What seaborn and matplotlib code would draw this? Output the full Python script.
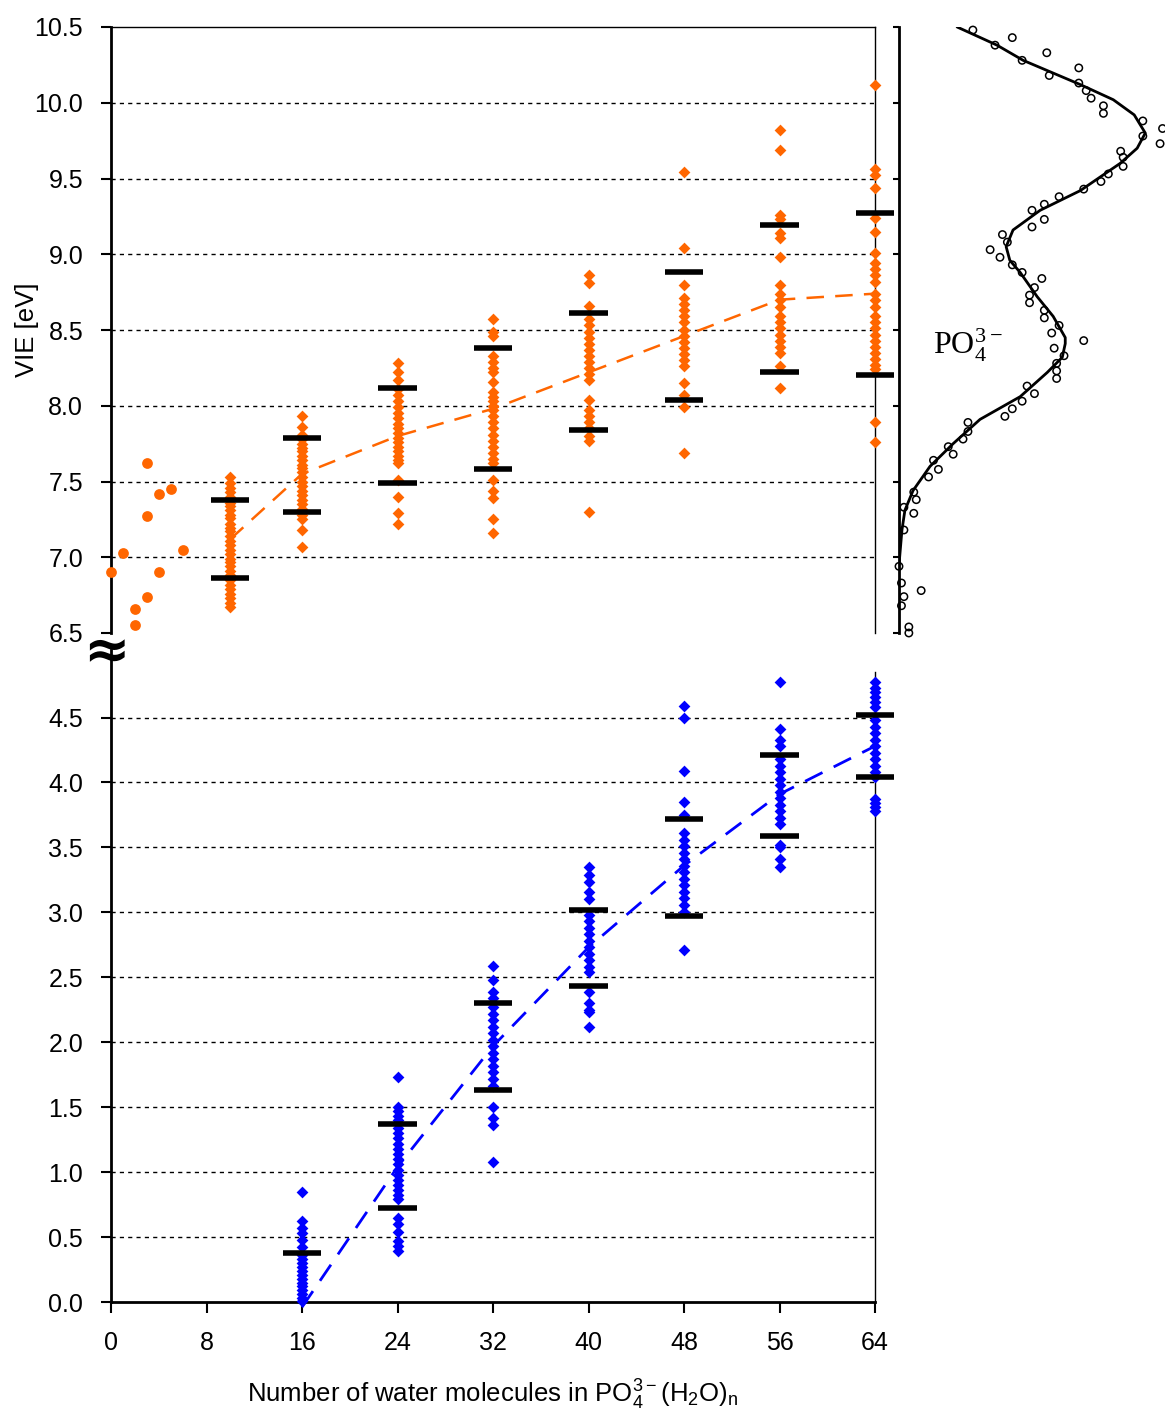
import numpy as np
import pandas as pd
import matplotlib
matplotlib.use("Agg")
import matplotlib.pyplot as plt
import seaborn as sns

# ---------------- data ----------------
# small clusters, n = 0..6 (orange dots)
small_n = [0, 1, 2, 2, 3, 3, 3, 4, 4, 5, 6]
small_vie = [6.90, 7.03, 6.66, 6.55, 7.62, 7.27, 6.74, 7.42, 6.90, 7.45, 7.05]

# VIE of PO4^3- states (upper panel), one list per cluster size
vie_n10 = [7.53, 7.49, 7.46, 7.43, 7.40, 7.36, 7.34, 7.31, 7.28, 7.26, 7.22, 7.19, 7.17, 7.14, 7.11,
           7.08, 7.05, 7.02, 6.99, 6.97, 6.94, 6.91, 6.88, 6.85, 6.82, 6.79, 6.76, 6.73, 6.70, 6.67]
vie_n16 = [7.93, 7.86, 7.81, 7.78, 7.75, 7.72, 7.70, 7.67, 7.64, 7.61, 7.59, 7.56, 7.53, 7.50, 7.47,
           7.44, 7.41, 7.38, 7.35, 7.32, 7.28, 7.25, 7.18, 7.07]
vie_n24 = [8.28, 8.22, 8.17, 8.11, 8.07, 8.03, 7.99, 7.95, 7.92, 7.88, 7.85, 7.82, 7.79, 7.76, 7.73,
           7.70, 7.67, 7.64, 7.62, 7.51, 7.40, 7.29, 7.22]
vie_n32 = [8.57, 8.49, 8.46, 8.33, 8.29, 8.25, 8.22, 8.16, 8.09, 8.06, 8.03, 8.00, 7.97, 7.93, 7.89,
           7.85, 7.81, 7.77, 7.73, 7.69, 7.65, 7.62, 7.51, 7.44, 7.39, 7.25, 7.16]
vie_n40 = [8.86, 8.81, 8.66, 8.57, 8.53, 8.49, 8.45, 8.41, 8.37, 8.33, 8.29, 8.25, 8.21, 8.17, 8.04,
           7.97, 7.93, 7.89, 7.85, 7.80, 7.77, 7.30]
vie_n48 = [9.54, 9.04, 8.80, 8.71, 8.67, 8.63, 8.59, 8.55, 8.50, 8.46, 8.42, 8.38, 8.34, 8.30, 8.26,
           8.15, 8.07, 7.99, 7.69]
vie_n56 = [9.82, 9.69, 9.26, 9.23, 9.14, 9.11, 8.98, 8.80, 8.74, 8.70, 8.65, 8.59, 8.55, 8.51, 8.47,
           8.43, 8.39, 8.35, 8.26, 8.12]
vie_n64 = [10.12, 9.56, 9.52, 9.44, 9.24, 9.15, 9.01, 8.94, 8.90, 8.86, 8.82, 8.74, 8.70, 8.65, 8.59,
           8.55, 8.51, 8.47, 8.43, 8.39, 8.35, 8.31, 8.27, 8.24, 7.89, 7.76]

orange_n = [10, 16, 24, 32, 40, 48, 56, 64]
orange_mean = [7.12, 7.55, 7.80, 7.98, 8.22, 8.46, 8.70, 8.74]
orange_hi = [7.38, 7.79, 8.12, 8.38, 8.61, 8.88, 9.19, 9.27]
orange_lo = [6.86, 7.30, 7.49, 7.58, 7.84, 8.04, 8.22, 8.20]

# lower panel (blue)
blue_n16 = [0.85, 0.62, 0.57, 0.53, 0.48, 0.42, 0.36, 0.33, 0.30, 0.27, 0.24, 0.21, 0.18, 0.15, 0.12,
            0.09, 0.06, 0.03, 0.01]
blue_n24 = [1.73, 1.50, 1.47, 1.43, 1.40, 1.34, 1.30, 1.26, 1.22, 1.18, 1.14, 1.10, 1.06, 1.02, 0.98,
            0.94, 0.90, 0.86, 0.82, 0.79, 0.65, 0.60, 0.54, 0.47, 0.43, 0.39]
blue_n32 = [2.59, 2.48, 2.39, 2.34, 2.27, 2.22, 2.17, 2.12, 2.07, 2.02, 1.97, 1.92, 1.87, 1.82, 1.77,
            1.72, 1.66, 1.50, 1.42, 1.36, 1.08]
blue_n40 = [3.35, 3.29, 3.23, 3.16, 3.10, 2.98, 2.93, 2.88, 2.83, 2.78, 2.73, 2.68, 2.63, 2.58, 2.54,
            2.39, 2.30, 2.25, 2.23, 2.12]
blue_n48 = [4.59, 4.50, 4.09, 3.85, 3.75, 3.61, 3.56, 3.51, 3.46, 3.41, 3.36, 3.31, 3.26, 3.21, 3.16,
            3.11, 3.06, 3.00, 2.71]
blue_n56 = [4.77, 4.41, 4.33, 4.28, 4.18, 4.13, 4.08, 4.03, 3.98, 3.93, 3.88, 3.83, 3.78, 3.73, 3.68,
            3.52, 3.50, 3.41, 3.35]
blue_n64 = [4.77, 4.73, 4.70, 4.66, 4.62, 4.58, 4.48, 4.43, 4.38, 4.33, 4.28, 4.23, 4.18, 4.13, 4.08,
            4.04, 3.87, 3.84, 3.81, 3.78]

blue_n = [16, 24, 32, 40, 48, 56, 64]
blue_mean = [-0.04, 1.04, 1.97, 2.73, 3.36, 3.91, 4.28]
blue_hi = [0.38, 1.37, 2.30, 3.02, 3.72, 4.21, 4.52]
blue_lo = [-0.34, 0.72, 1.63, 2.43, 2.97, 3.59, 4.04]  # first one lies below the axis

# photoelectron spectrum (right panel): fitted curve and measured points
spec_vie = [10.50, 10.38, 10.28, 10.12, 10.02, 9.92, 9.80, 9.70, 9.60, 9.42, 9.29, 9.16, 9.05, 8.96,
            8.88, 8.72, 8.59, 8.45, 8.41, 8.32, 8.22, 8.06, 7.91, 7.75, 7.60, 7.44, 7.31, 7.18, 6.95]
spec_int = [0.236, 0.398, 0.504, 0.736, 0.870, 0.955, 1.0, 0.967, 0.898, 0.736, 0.573, 0.463, 0.435,
            0.45, 0.492, 0.561, 0.626, 0.675, 0.675, 0.663, 0.602, 0.492, 0.329, 0.220, 0.126, 0.057,
            0.024, 0.012, 0.0]
exp_vie = [10.48, 10.38, 10.43, 10.28, 10.33, 10.18, 10.23, 10.13, 10.08, 10.03, 9.98, 9.93, 9.88,
           9.83, 9.73, 9.78, 9.68, 9.64, 9.58, 9.53, 9.48, 9.43, 9.38, 9.33, 9.29, 9.23, 9.18, 9.13,
           9.08, 9.03, 8.98, 8.93, 8.88, 8.84, 8.78, 8.73, 8.68, 8.63, 8.58, 8.53, 8.48, 8.43, 8.38,
           8.33, 8.28, 8.23, 8.18, 8.13, 8.08, 8.03, 7.98, 7.93, 7.89, 7.83, 7.78, 7.73, 7.68, 7.64,
           7.58, 7.53, 7.43, 7.38, 7.33, 7.29, 7.18, 6.94, 6.83, 6.74, 6.68, 6.78, 6.54, 6.50]
exp_int = [0.30, 0.39, 0.46, 0.50, 0.60, 0.61, 0.73, 0.73, 0.76, 0.78, 0.83, 0.83, 0.99, 1.07, 1.06,
           0.99, 0.90, 0.91, 0.91, 0.85, 0.82, 0.75, 0.65, 0.59, 0.54, 0.59, 0.54, 0.42, 0.44, 0.37,
           0.41, 0.46, 0.50, 0.58, 0.55, 0.53, 0.53, 0.59, 0.59, 0.65, 0.62, 0.75, 0.63, 0.67, 0.64,
           0.64, 0.64, 0.52, 0.55, 0.50, 0.46, 0.43, 0.28, 0.28, 0.26, 0.20, 0.22, 0.14, 0.16, 0.12,
           0.06, 0.07, 0.02, 0.06, 0.02, 0.00, 0.01, 0.02, 0.01, 0.09, 0.04, 0.04]

x_ticks = [0, 8, 16, 24, 32, 40, 48, 56, 64]

# ---------------- tables ----------------
orange_sets = [vie_n10, vie_n16, vie_n24, vie_n32, vie_n40, vie_n48, vie_n56, vie_n64]
df_orange = pd.DataFrame({
    "n": np.concatenate([[n] * len(v) for n, v in zip(orange_n, orange_sets)]),
    "vie": np.concatenate(orange_sets),
})
blue_sets = [blue_n16, blue_n24, blue_n32, blue_n40, blue_n48, blue_n56, blue_n64]
df_blue = pd.DataFrame({
    "n": np.concatenate([[n] * len(v) for n, v in zip(blue_n, blue_sets)]),
    "vie": np.concatenate(blue_sets),
})

# ---------------- style ----------------
sns.set_style("white")
plt.rcParams["font.family"] = ["Liberation Sans", "DejaVu Sans"]
plt.rcParams["mathtext.fontset"] = "custom"
plt.rcParams["mathtext.rm"] = "Liberation Sans"
plt.rcParams["text.color"] = "black"
plt.rcParams["axes.labelcolor"] = "black"
plt.rcParams["xtick.color"] = "black"
plt.rcParams["ytick.color"] = "black"

ORANGE = "#FF6600"
BLUE = "#0000FF"
W, H = 1165, 1413

fig = plt.figure(figsize=(W / 100, H / 100), dpi=100)
ax_top = fig.add_axes([111 / W, 1 - 633 / H, 764 / W, 606 / H])
ax_bot = fig.add_axes([111 / W, 1 - 1302 / H, 764 / W, 652 / H])
ax_sp = fig.add_axes([899 / W, 1 - 633 / H, 266 / W, 606 / H])

dash_grid = (0, (3, 3))
dash_mean = (0, (7, 4.5))
bar_half = 1.6


def style_main(ax, yticks):
    ax.set_xlim(0, 64)
    ax.set_yticks(yticks)
    ax.set_yticklabels([f"{t:.1f}" for t in yticks])
    ax.tick_params(axis="y", direction="out", length=7, width=1.5, labelsize=18, pad=13, left=True,
                   colors="black")
    ax.set_xlabel("")
    ax.set_ylabel("")
    for s in ax.spines.values():
        s.set_color("black")
    ax.spines["left"].set_linewidth(2)


# ---- upper panel ----
grid_top = np.arange(7.0, 10.01, 0.5)
ax_top.hlines(grid_top, 0, 64, colors="black", linestyles=dash_grid, lw=1, zorder=1)
sns.scatterplot(x=small_n, y=small_vie, ax=ax_top, marker="o", s=60, color=ORANGE,
                linewidth=0, clip_on=False, zorder=3)
sns.scatterplot(data=df_orange, x="n", y="vie", ax=ax_top, marker="D", s=36, color=ORANGE,
                linewidth=0, clip_on=False, zorder=3)
sns.lineplot(x=orange_n, y=orange_mean, ax=ax_top, color=ORANGE, lw=1.8, linestyle=dash_mean,
             zorder=2)
on = np.array(orange_n)
ax_top.hlines(orange_hi, on - bar_half, on + bar_half, colors="black", lw=4, zorder=4, clip_on=False)
ax_top.hlines(orange_lo, on - bar_half, on + bar_half, colors="black", lw=4, zorder=4, clip_on=False)
ax_top.set_ylim(6.5, 10.5)
style_main(ax_top, np.arange(6.5, 10.51, 0.5))
ax_top.set_xticks([])
ax_top.spines["bottom"].set_visible(False)
ax_top.spines["top"].set_linewidth(1)
ax_top.spines["right"].set_linewidth(1)

# ---- lower panel ----
grid_bot = np.arange(0.5, 4.51, 0.5)
ax_bot.hlines(grid_bot, 0, 64, colors="black", linestyles=dash_grid, lw=1, zorder=1)
sns.scatterplot(data=df_blue, x="n", y="vie", ax=ax_bot, marker="D", s=36, color=BLUE,
                linewidth=0, clip_on=False, zorder=3)
sns.lineplot(x=blue_n, y=blue_mean, ax=ax_bot, color=BLUE, lw=2, linestyle=dash_mean, zorder=2)
for ln in ax_bot.get_lines():
    ln.set_clip_on(False)
bn = np.array(blue_n)
hi = np.array(blue_hi)
lo = np.array(blue_lo)
ax_bot.hlines(hi, bn - bar_half, bn + bar_half, colors="black", lw=4, zorder=4, clip_on=False)
vis = lo >= 0
ax_bot.hlines(lo[vis], bn[vis] - bar_half, bn[vis] + bar_half, colors="black", lw=4, zorder=4,
              clip_on=False)
ax_bot.set_ylim(0, 5.02)
style_main(ax_bot, np.arange(0, 4.51, 0.5))
ax_bot.set_xticks(x_ticks)
ax_bot.set_xticklabels([str(t) for t in x_ticks])
ax_bot.tick_params(axis="x", direction="out", length=8, width=1.5, labelsize=18, pad=13, bottom=True,
                   colors="black")
ax_bot.spines["top"].set_visible(False)
ax_bot.spines["bottom"].set_linewidth(2)
ax_bot.spines["right"].set_linewidth(1)
ax_bot.spines["right"].set_bounds(0, 4.85)
ax_bot.set_xlabel(r"Number of water molecules in PO$\mathregular{_4^{3-}}$(H$\mathregular{_2}$O)$\mathregular{_n}$",
                  fontsize=18.5, labelpad=16, color="black")

# ---- spectrum panel ----
sns.lineplot(x=spec_int, y=spec_vie, ax=ax_sp, sort=False, estimator=None, color="black", lw=2)
sns.scatterplot(x=exp_int, y=exp_vie, ax=ax_sp, marker="o", s=28, clip_on=False, zorder=3)
pts = ax_sp.collections[-1]
pts.set_facecolor("none")
pts.set_edgecolor("black")
pts.set_linewidth(1.1)
ax_sp.set_xlim(0, 1.08)
ax_sp.set_ylim(6.5, 10.5)
ax_sp.set_xticks([])
ax_sp.set_yticks(np.arange(6.5, 10.51, 0.5))
ax_sp.set_yticklabels([])
ax_sp.tick_params(axis="y", direction="out", length=4, width=1.5, left=True, colors="black")
ax_sp.set_xlabel("")
ax_sp.set_ylabel("")
for side in ["top", "right", "bottom"]:
    ax_sp.spines[side].set_visible(False)
ax_sp.spines["left"].set_linewidth(2)
ax_sp.spines["left"].set_color("black")
ax_sp.text(0.14, 8.4, r"PO$\mathregular{_4^{3-}}$", fontsize=23, family="Liberation Serif",
           va="center", ha="left", color="black")

# ---- labels and axis break ----
fig.text(27 / W, 1 - 330 / H, "VIE [eV]", rotation=90, ha="center", va="center", fontsize=18.5,
         color="black")
fig.text(106 / W, 1 - 653 / H, "\u2248", ha="center", va="center", fontsize=40,
         fontweight="bold", family="DejaVu Sans", color="black")

fig.savefig("out.png", dpi=100)
